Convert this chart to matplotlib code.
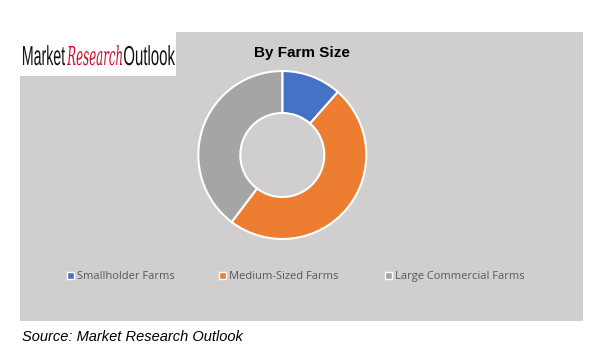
import matplotlib
matplotlib.use('Agg')
import matplotlib.pyplot as plt
from matplotlib.patches import Rectangle, PathPatch
from matplotlib.textpath import TextPath
from matplotlib.font_manager import FontProperties
from matplotlib.transforms import Affine2D, IdentityTransform

# Data
categories = ['Smallholder Farms', 'Medium-Sized Farms', 'Large Commercial Farms']
shares = [11.5, 48.8, 39.7]
colors = ['#4472C4', '#ED7D31', '#A5A5A5']

W, H = 593, 351
fig = plt.figure(figsize=(W / 100, H / 100), dpi=100)
fig.patch.set_facecolor('white')

# Gray panel
panel_bg = '#D0CECE'
fig.patches.append(Rectangle((20 / W, 1 - 321 / H), 563 / W, 289 / H,
                             transform=fig.transFigure, facecolor=panel_bg,
                             edgecolor='none', zorder=-2))
# white logo box over the panel
fig.patches.append(Rectangle((20 / W, 1 - 76 / H), 156 / W, 44 / H,
                             transform=fig.transFigure, facecolor='white',
                             edgecolor='none', zorder=-1))


# Logo: squeeze text paths into pixel boxes (condensed look)
def logo_word(text, x0, x1, baseline, cap_px, color, prop):
    tp = TextPath((0, 0), text, size=100, prop=prop)
    ext = tp.get_extents()
    sx = (x1 - x0) / ext.width
    sy = cap_px / 72.9
    tr = Affine2D().translate(-ext.x0, 0).scale(sx, sy).translate(x0, H - baseline)
    patch = PathPatch(tr.transform_path(tp), facecolor=color, edgecolor='none',
                      transform=IdentityTransform())
    fig.patches.append(patch)


sans = FontProperties(family='Liberation Sans')
script = FontProperties(family='DejaVu Serif', style='italic')
logo_word('Market', 23, 65, 65, 20, '#111111', sans)
logo_word('Research', 67, 122, 65, 19, '#C8102E', script)
logo_word('Outlook', 124, 175, 65, 20, '#111111', sans)

# Title
fig.text(301.7 / W, 1 - 56.7 / H, 'By Farm Size', fontsize=11, fontweight='bold',
         family='Liberation Sans', ha='center', va='baseline', color='black')

# Donut
cx, cy, r = 282.3, 155, 84
ax = fig.add_axes([(cx - r) / W, 1 - (cy + r) / H, 2 * r / W, 2 * r / H])
ax.pie(shares, colors=colors, startangle=90, counterclock=False,
       wedgeprops=dict(width=0.5, edgecolor='white', linewidth=1.5))
ax.set_aspect('equal')
ax.set_xlim(-1, 1)
ax.set_ylim(-1, 1)
ax.axis('off')

# Legend
legend_x = [66, 218, 384]
for x, label, c in zip(legend_x, categories, colors):
    fig.patches.append(Rectangle(((x + 1) / W, 1 - 278.5 / H), 7 / W, 7 / H,
                                 transform=fig.transFigure, facecolor=c,
                                 edgecolor='white', linewidth=1, zorder=2))
    fig.text((x + 11) / W, 1 - 279 / H, label, fontsize=8, color='#595959',
             family='Open Sans', ha='left', va='baseline')

# Source
fig.text(22 / W, 1 - 337 / H, 'Source: Market Research Outlook', fontsize=10.5,
         style='italic', family='Liberation Sans', ha='left', va='center', color='black')

fig.savefig('out.png', dpi=100)
